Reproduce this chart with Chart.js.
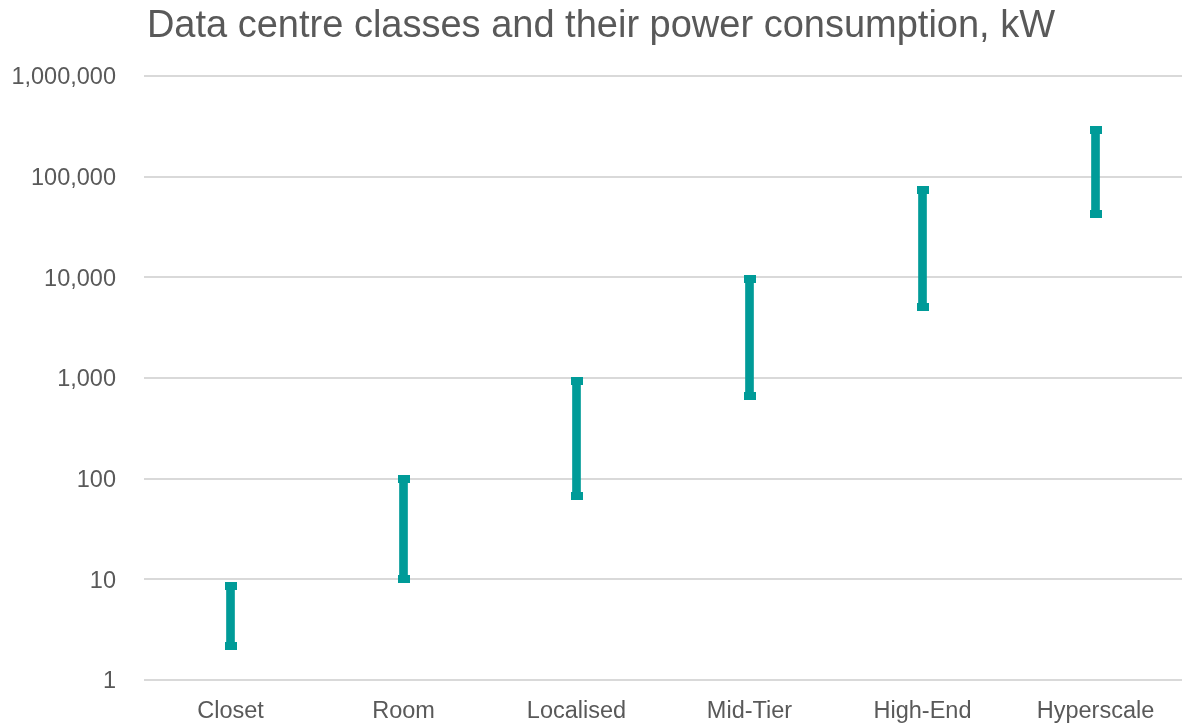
<!DOCTYPE html>
<html>
<head>
<meta charset="utf-8">
<script src="https://cdn.jsdelivr.net/npm/chart.js@4/dist/chart.umd.min.js"></script>
<style>
  html, body { margin: 0; padding: 0; background: #fff; }
  #wrap { width: 1182px; height: 726px; }
</style>
</head>
<body>
<div id="wrap"><canvas id="powerChart"></canvas></div>
<script>
// data (kW)
const categories = ['Closet', 'Room', 'Localised', 'Mid-Tier', 'High-End', 'Hyperscale'];
const lowValues = [2.2, 10, 68, 670, 5100, 43000];
const highValues = [8.6, 99, 940, 9600, 74000, 290000];
const tickValues = [1, 10, 100, 1000, 10000, 100000, 1000000];

const teal = '#009B98';
const textGrey = '#595959';
const fontFamily = '"Liberation Sans", Arial, sans-serif';

// little flat cap drawn at each end of a range
function makeCap() {
    const c = document.createElement('canvas');
    c.width = 12;
    c.height = 8;
    const g = c.getContext('2d');
    g.fillStyle = teal;
    g.fillRect(0, 0, 12, 8);
    return c;
}
const cap = makeCap();

const ranges = categories.map((c, i) => [lowValues[i], highValues[i]]);

// the title sits a little right of centre in the original
const nudgeTitle = {
    id: 'nudgeTitle',
    afterLayout(chart) {
        if (chart.titleBlock) chart.titleBlock.left = 20;
    }
};

const ctx = document.getElementById('powerChart').getContext('2d');
const powerChart = new Chart(ctx, {
    data: {
        labels: categories,
        datasets: [
            {
                type: 'bar',
                label: 'Range',
                data: ranges,
                backgroundColor: teal,
                barThickness: 8,
                borderSkipped: false,
                order: 2
            },
            {
                type: 'line',
                label: 'Low',
                data: lowValues,
                showLine: false,
                pointStyle: cap,
                order: 1
            },
            {
                type: 'line',
                label: 'High',
                data: highValues,
                showLine: false,
                pointStyle: cap,
                order: 1
            }
        ]
    },
    plugins: [nudgeTitle],
    options: {
        responsive: true,
        maintainAspectRatio: false,
        animation: false,
        devicePixelRatio: 1,
        layout: { autoPadding: false, padding: 0 },
        plugins: {
            legend: { display: false },
            tooltip: { enabled: false },
            title: {
                display: true,
                text: 'Data centre classes and their power consumption, kW',
                color: textGrey,
                font: { family: fontFamily, size: 38, weight: 'normal' },
                padding: { top: 4, bottom: 26.4 }
            }
        },
        scales: {
            x: {
                afterFit: scale => {
                    scale.height = 46;
                    scale.paddingLeft = 0;
                    scale.paddingRight = 0;
                },
                grid: { display: false, drawTicks: false },
                border: { display: false },
                ticks: {
                    color: textGrey,
                    font: { family: fontFamily, size: 23.5 },
                    padding: 17
                }
            },
            y: {
                type: 'logarithmic',
                min: 1,
                max: 1000000,
                afterBuildTicks: scale => {
                    scale.ticks = tickValues.map(v => ({ value: v }));
                },
                afterFit: scale => {
                    scale.width = 144;
                },
                grid: { color: '#d9d9d9', lineWidth: 2, drawTicks: false },
                border: { display: false },
                ticks: {
                    color: textGrey,
                    font: { family: fontFamily, size: 23.5 },
                    padding: 28,
                    labelOffset: 2,
                    callback: v => Number(v).toLocaleString('en-US')
                }
            }
        }
    }
});
</script>
</body>
</html>
